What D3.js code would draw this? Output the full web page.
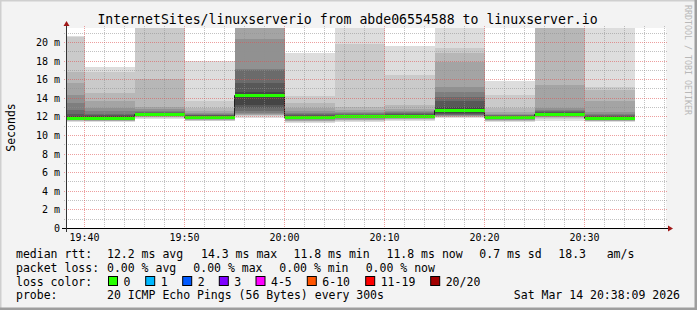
<!DOCTYPE html>
<html>
<head>
<meta charset="utf-8">
<script src="https://cdn.jsdelivr.net/npm/d3@7"></script>
<style>
  body { margin: 0; background: #f3f3f3; }
  text { font-family: "DejaVu Sans Mono", monospace; fill: #000; }
</style>
</head>
<body>
<div id="chart"></div>
<script>
// end time of each 5 minute step (value covers the 5 minutes before)
const stepEnds = ["19:40", "19:45", "19:50", "19:55", "20:00", "20:05",
                  "20:10", "20:15", "20:20", "20:25", "20:30", "20:35"];

// median rtt per step, ms
const medians = [11.85, 11.85, 12.3, 11.95, 14.35, 11.95, 12.0, 12.05, 12.65, 11.9, 12.3, 11.85];

// the 20 sorted pings of each step, ms
const pings = [
    [11.4, 11.5, 11.55, 11.6, 11.6, 11.65, 11.7, 11.75, 11.8, 11.85, 11.9, 12.0, 12.3, 12.7, 13.4, 14.3, 15.6, 16.8, 20.5, 20.6],
    [11.35, 11.45, 11.5, 11.55, 11.6, 11.65, 11.7, 11.75, 11.8, 11.85, 11.9, 12.0, 12.1, 12.3, 12.6, 12.9, 13.7, 14.5, 16.8, 17.3],
    [11.7, 11.8, 11.9, 11.95, 12.0, 12.05, 12.1, 12.15, 12.2, 12.25, 12.3, 12.35, 12.4, 12.5, 12.6, 12.8, 13.0, 16.0, 22.0, 22.5],
    [11.5, 11.55, 11.6, 11.65, 11.7, 11.75, 11.8, 11.85, 11.9, 11.95, 12.0, 12.05, 12.1, 12.2, 12.3, 12.4, 12.6, 12.9, 13.7, 17.9],
    [11.8, 12.0, 12.1, 12.2, 12.3, 12.4, 12.6, 12.9, 13.2, 14.3, 14.4, 14.6, 15.6, 17.0, 17.1, 20.3, 22.5, 23.0, 24.0, 25.0],
    [11.25, 11.35, 11.45, 11.55, 11.65, 11.7, 11.75, 11.85, 11.9, 11.95, 12.0, 12.05, 12.15, 12.25, 12.4, 12.6, 12.9, 13.4, 14.2, 18.8],
    [11.4, 11.5, 11.6, 11.65, 11.75, 11.8, 11.85, 11.9, 11.95, 12.0, 12.05, 12.1, 12.15, 12.25, 12.35, 12.5, 12.7, 13.0, 19.8, 22.5],
    [11.5, 11.6, 11.7, 11.75, 11.8, 11.85, 11.9, 11.95, 12.0, 12.05, 12.1, 12.15, 12.25, 12.35, 12.45, 12.6, 12.8, 13.2, 16.5, 19.6],
    [11.8, 11.9, 11.95, 12.0, 12.05, 12.1, 12.2, 12.3, 12.4, 12.6, 12.7, 13.0, 13.6, 14.1, 14.6, 15.2, 17.8, 18.8, 19.3, 22.5],
    [11.4, 11.5, 11.55, 11.6, 11.65, 11.7, 11.75, 11.8, 11.85, 11.9, 11.95, 12.0, 12.05, 12.1, 12.2, 12.3, 12.5, 12.9, 14.3, 15.8],
    [11.5, 11.7, 11.8, 11.9, 11.95, 12.0, 12.1, 12.2, 12.25, 12.3, 12.35, 12.4, 12.45, 12.55, 12.7, 12.9, 15.4, 22.0, 23.0, 23.5],
    [11.4, 11.45, 11.5, 11.55, 11.6, 11.65, 11.7, 11.75, 11.8, 11.85, 11.9, 11.95, 12.05, 12.15, 12.3, 12.5, 13.7, 14.8, 15.2, 22.5]
];

const legendRtt = [["median rtt:", 16], ["12.2 ms avg", 107], ["14.3 ms max", 201], ["11.8 ms min", 293.5],
                   ["11.8 ms now", 386.5], ["0.7 ms sd", 479.3], ["18.3", 558.3], ["am/s", 606.7]];
const legendLoss = [["packet loss:", 16], ["0.00 % avg", 107], ["0.00 % max", 193.3], ["0.00 % min", 279.3], ["0.00 % now", 365.7]];
const lossLabels = ["0", "1", "2", "3", "4-5", "6-10", "11-19", "20/20"];
const lossColors = ["#26ff00", "#00b8ff", "#0059ff", "#7e00ff", "#ff00ff", "#ff5500", "#ff0000", "#a10000"];
const lossBoxX = [108.5, 145.7, 182.7, 219.3, 256, 307.3, 365.7, 430.7];

const W = 697, H = 310;
const plot = { left: 66, right: 666, top: 28, bottom: 228 };

const svg = d3.select("#chart").append("svg")
    .attr("width", W).attr("height", H);

// canvas + 3d border
svg.append("rect").attr("width", W).attr("height", H).attr("fill", "#f3f3f3");
svg.append("path").attr("d", `M0,${H} V0 H${W}`).attr("stroke", "#cfcfcf").attr("stroke-width", 3).attr("fill", "none");
svg.append("path").attr("d", `M0,${H - 1} H${W - 1} V0`).attr("stroke", "#9e9e9e").attr("stroke-width", 3).attr("fill", "none");

const parse = s => { const [h, m] = s.split(":").map(Number); return new Date(2026, 2, 14, h, m, 0); };
const t0 = new Date(2026, 2, 14, 19, 38, 9), t1 = new Date(2026, 2, 14, 20, 38, 9);

const x = d3.scaleTime().domain([t0, t1]).range([plot.left, plot.right]);
const y = d3.scaleLinear().domain([0, 21.5]).range([plot.bottom, plot.top]);

svg.append("rect")
    .attr("x", plot.left).attr("y", plot.top)
    .attr("width", plot.right - plot.left).attr("height", plot.bottom - plot.top)
    .attr("fill", "#fff");

svg.append("clipPath").attr("id", "clip").append("rect")
    .attr("x", plot.left + 1).attr("y", plot.top)
    .attr("width", plot.right - plot.left - 1).attr("height", plot.bottom - plot.top);

const g = svg.append("g").attr("clip-path", "url(#clip)");

// smoke: layer k spans ping k-1 .. ping 20-k
const steps = stepEnds.map((s, i) => {
    const end = parse(s);
    return { start: d3.timeMinute.offset(end, -5), end, p: pings[i], m: medians[i] };
});
const layers = [];
steps.forEach(st => {
    for (let k = 1; k <= 10; k++) {
        const c = Math.floor(190 / 10 * (10 - k)) + 50;
        layers.push({ st, lo: st.p[k - 1], hi: st.p[20 - k], c });
    }
});
g.selectAll("rect.smoke")
    .data(layers)
    .enter().append("rect")
    .attr("class", "smoke")
    .attr("shape-rendering", "crispEdges")
    .attr("x", d => Math.floor(x(d.st.start)) + 1)
    .attr("width", d => Math.floor(x(d.st.end)) - Math.floor(x(d.st.start)))
    .attr("y", d => y(d.hi))
    .attr("height", d => y(d.lo) - y(d.hi))
    .attr("fill", d => d3.rgb(d.c, d.c, d.c));

// median line (black step) + loss coloured band
const medLine = d3.line()
    .x(d => Math.floor(x(d.t)) + 0.5)
    .y(d => Math.round(y(d.m)) + 0.5)
    .curve(d3.curveStepAfter);
const medPts = steps.map(st => ({ t: st.start, m: st.m }));
medPts.push({ t: steps[steps.length - 1].end, m: steps[steps.length - 1].m });
g.append("path").attr("d", medLine(medPts))
    .attr("fill", "none").attr("stroke", "#202020").attr("stroke-width", 1);

g.selectAll("rect.med")
    .data(steps)
    .enter().append("rect")
    .attr("class", "med")
    .attr("shape-rendering", "crispEdges")
    .attr("x", d => Math.floor(x(d.start)) + 1)
    .attr("width", d => Math.floor(x(d.end)) - Math.floor(x(d.start)))
    .attr("y", d => Math.round(y(d.m)) - 1)
    .attr("height", 3)
    .attr("fill", lossColors[0]);

// grid
const minorY = d3.range(0, 22, 1).filter(v => v % 2 !== 0);
const majorY = d3.range(0, 21, 2);
const minorX = x.ticks(d3.timeMinute.every(2)).filter(t => t.getMinutes() % 10 !== 0);
const majorX = x.ticks(d3.timeMinute.every(10));

const grid = svg.append("g").attr("fill", "none").attr("stroke-width", 1);
grid.selectAll("line.minY").data(minorY).enter().append("line")
    .attr("x1", plot.left - 2).attr("x2", plot.right + 2)
    .attr("y1", d => Math.round(y(d)) + 0.5).attr("y2", d => Math.round(y(d)) + 0.5)
    .attr("stroke", "rgba(143,143,143,0.55)").attr("stroke-dasharray", "1,1");
grid.selectAll("line.minX").data(minorX).enter().append("line")
    .attr("y1", plot.top - 2).attr("y2", plot.bottom + 2)
    .attr("x1", d => Math.floor(x(d)) + 0.5).attr("x2", d => Math.floor(x(d)) + 0.5)
    .attr("stroke", "rgba(143,143,143,0.55)").attr("stroke-dasharray", "1,1");
grid.selectAll("line.majY").data(majorY).enter().append("line")
    .attr("x1", plot.left - 2).attr("x2", plot.right + 2)
    .attr("y1", d => Math.round(y(d)) + 0.5).attr("y2", d => Math.round(y(d)) + 0.5)
    .attr("stroke", "rgba(222,80,80,0.55)").attr("stroke-dasharray", "1,1");
grid.selectAll("line.majX").data(majorX).enter().append("line")
    .attr("y1", plot.top - 2).attr("y2", plot.bottom + 2)
    .attr("x1", d => Math.floor(x(d)) + 0.5).attr("x2", d => Math.floor(x(d)) + 0.5)
    .attr("stroke", "rgba(222,80,80,0.55)").attr("stroke-dasharray", "1,1");

// axes
const ax = svg.append("g");
ax.append("line").attr("x1", plot.left - 4).attr("x2", plot.right + 4)
    .attr("y1", plot.bottom + 0.5).attr("y2", plot.bottom + 0.5).attr("stroke", "#000");
ax.append("line").attr("x1", plot.left + 0.5).attr("x2", plot.left + 0.5)
    .attr("y1", plot.bottom + 4).attr("y2", plot.top - 4).attr("stroke", "#333");
ax.append("path").attr("d", `M${plot.right + 2},${plot.bottom - 2.5} L${plot.right + 7},${plot.bottom + 0.5} L${plot.right + 2},${plot.bottom + 3.5}Z`)
    .attr("fill", "#a01818");
ax.append("path").attr("d", `M${plot.left - 2.5},${plot.top - 2} L${plot.left + 0.5},${plot.top - 7} L${plot.left + 3.5},${plot.top - 2}Z`)
    .attr("fill", "#a01818");

// tick labels
svg.append("g").selectAll("text").data(majorY).enter().append("text")
    .attr("x", 60).attr("y", d => Math.round(y(d)) + 4)
    .attr("text-anchor", "end").attr("font-size", 10)
    .text(d => d === 0 ? "0" : d + " m");
svg.append("g").selectAll("text").data(majorX).enter().append("text")
    .attr("x", d => Math.floor(x(d)) + 0.5).attr("y", 240.5)
    .attr("text-anchor", "middle").attr("font-size", 10)
    .text(d3.timeFormat("%H:%M"));

// titles
svg.append("text").attr("x", 347.5).attr("y", 24)
    .attr("text-anchor", "middle").attr("font-size", 13.2)
    .text("InternetSites/linuxserverio from abde06554588 to linuxserver.io");
svg.append("text").attr("transform", "translate(14.5,127.5) rotate(-90)")
    .attr("text-anchor", "middle").attr("font-size", 11.5)
    .text("Seconds");
svg.append("text").attr("transform", "translate(685,5) rotate(90)")
    .attr("font-size", 8.3).style("fill", "#b8b8b8")
    .text("RRDTOOL / TOBI OETIKER");

// legend
const leg = svg.append("g").attr("font-size", 11.5);
leg.selectAll("text.rtt").data(legendRtt).enter().append("text")
    .attr("x", d => d[1]).attr("y", 258.3).text(d => d[0]);
leg.selectAll("text.loss").data(legendLoss).enter().append("text")
    .attr("x", d => d[1]).attr("y", 271.7).text(d => d[0]);
leg.append("text").attr("x", 16).attr("y", 285.5).text("loss color:");
leg.selectAll("rect.lc").data(lossLabels).enter().append("rect")
    .attr("x", (d, i) => lossBoxX[i]).attr("y", 276.5)
    .attr("width", 9).attr("height", 9)
    .attr("fill", (d, i) => lossColors[i]).attr("stroke", "#000");
leg.selectAll("text.lc").data(lossLabels).enter().append("text")
    .attr("x", (d, i) => lossBoxX[i] + 15).attr("y", 285.5).text(d => d);
leg.append("text").attr("x", 16).attr("y", 299).text("probe:");
leg.append("text").attr("x", 107).attr("y", 299).text("20 ICMP Echo Pings (56 Bytes) every 300s");
leg.append("text").attr("x", 680).attr("y", 299).attr("text-anchor", "end").text("Sat Mar 14 20:38:09 2026");
</script>
</body>
</html>
